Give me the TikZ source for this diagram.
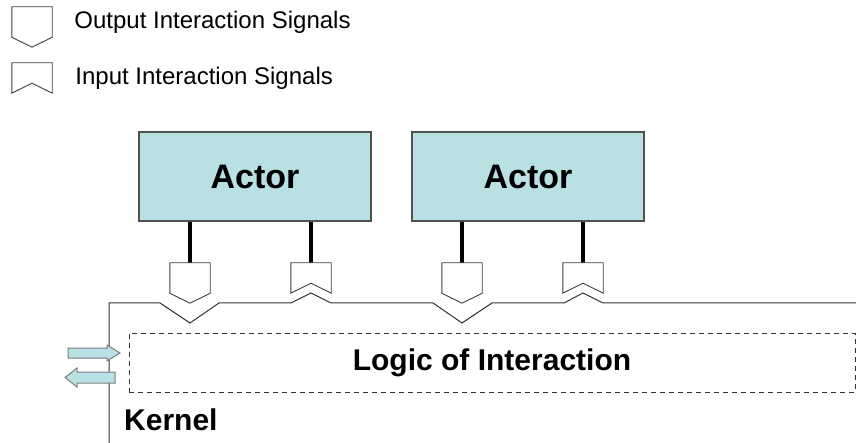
\documentclass[tikz,border=0pt]{standalone}
\usepackage{fontspec}
\setmainfont{Liberation Sans}
\usetikzlibrary{positioning}

\definecolor{actorfill}{RGB}{185,224,226}
\definecolor{framegray}{RGB}{80,80,80}
\definecolor{arrowgray}{RGB}{125,125,125}

% signal shapes drawn on a named slot node
\newcommand{\outsig}[1]{\draw[sigline] (#1.north west) -- (#1.north east) -- (#1.south east) -- ([yshift=-10pt]#1.south) -- (#1.south west) -- cycle;}
\newcommand{\insig}[1]{\draw[sigline] (#1.north west) -- (#1.north east) -- (#1.south east) -- ([yshift=10pt]#1.south) -- (#1.south west) -- cycle;}

\begin{document}
\begin{tikzpicture}[x=1pt,y=-1pt,
  actor/.style={draw=framegray, line width=1.3pt, fill=actorfill, minimum width=232pt, minimum height=89pt, font=\fontsize{34}{40}\selectfont\bfseries},
  sigslot/.style={minimum width=40pt, minimum height=30pt, inner sep=0pt},
  sigline/.style={draw=black!75, line width=0.9pt, fill=white},
  stub/.style={line width=4pt, black},
  legtext/.style={font=\fontsize{24}{28}\selectfont, inner sep=0pt},
  kernline/.style={draw=black!80, line width=1pt},
  logicbox/.style={draw=black!80, line width=1pt, dash pattern=on 5pt off 4pt, minimum width=726pt, minimum height=59pt, font=\fontsize{30}{36}\selectfont\bfseries},
  blockarrow/.style={draw=arrowgray, line width=1pt, fill=actorfill}]
  \useasboundingbox (0,0) rectangle (856,443);

  % legend
  \node[sigslot] (legout) at (32,22) {};
  \node[sigslot] (legin) at (32,78) {};
  \outsig{legout}
  \insig{legin}
  \node[legtext, right=22pt of legout] (legouttext) {Output Interaction Signals};
  \node[legtext, right=23pt of legin] (legintext) {Input Interaction Signals};

  % kernel outline with the signal notches
  \draw[kernline] (109,443) -- (109,303) -- (160,303) -- (190,323) -- (219,303) -- (291,303) -- (311,293) -- (331,303)
    -- (433,303) -- (462,323) -- (492,303) -- (564,303) -- (583,293) -- (603,303) -- (856,303);
  \node[logicbox] (logic) at (492,362.5) {Logic of Interaction};
  \node[anchor=west, inner sep=0pt, font=\fontsize{30}{36}\selectfont\bfseries] (kernel) at (124,420) {Kernel};

  % actors
  \node[actor] (actA) at (255,176.5) {Actor};
  \node[actor] (actB) at (528,176.5) {Actor};

  % signal slots
  \node[sigslot] (outA) at (190,278) {};
  \node[sigslot] (inA) at (311,278) {};
  \node[sigslot] (outB) at (462,278) {};
  \node[sigslot] (inB) at (583,278) {};
  \draw[stub] (outA.north |- actA.south) -- (outA.north);
  \draw[stub] (inA.north |- actA.south) -- (inA.north);
  \draw[stub] (outB.north |- actB.south) -- (outB.north);
  \draw[stub] (inB.north |- actB.south) -- (inB.north);
  \outsig{outA}
  \insig{inA}
  \outsig{outB}
  \insig{inB}

  % in/out arrows at the kernel edge
  \draw[blockarrow] (68,348) -- (107,348) -- (107,345) -- (120,353) -- (107,361) -- (107,358) -- (68,358) -- cycle;
  \draw[blockarrow] (115,372) -- (77,372) -- (77,368) -- (65,377.5) -- (77,387) -- (77,383) -- (115,383) -- cycle;
\end{tikzpicture}
\end{document}
